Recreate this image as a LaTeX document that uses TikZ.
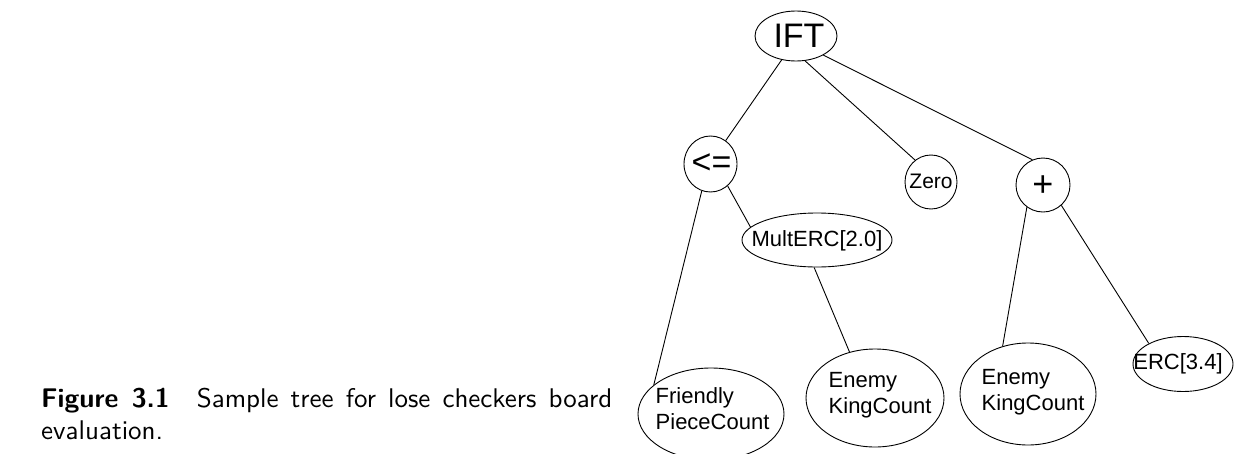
\documentclass[tikz,border=0pt]{standalone}
\usepackage{fontspec}
\newfontfamily\arialf{Liberation Sans}
\usetikzlibrary{shapes.geometric}
\begin{document}
\begin{tikzpicture}[x=1pt,y=-1pt,
  tn/.style={draw, ellipse, line width=0.9pt, inner sep=0pt},
  lbl/.style={inner sep=0pt, font=\arialf\fontsize{22}{26}\selectfont},
  edge/.style={line width=0.9pt}]
\clip (0,0) rectangle (1235,453);
\fill[white] (0,0) rectangle (1235,453);

% tree nodes (shapes)
\node[tn, minimum width=82pt, minimum height=50pt] (ift) at (796,36) {};
\node[tn, minimum width=53pt, minimum height=56pt] (le) at (710.5,164) {};
\node[tn, minimum width=52pt, minimum height=54pt] (zero) at (931,182) {};
\node[tn, minimum width=54pt, minimum height=54pt] (plus) at (1043,185) {};
\node[tn, minimum width=150pt, minimum height=54pt] (mult) at (817,240) {};
\node[tn, minimum width=146pt, minimum height=92pt] (fr) at (711,414) {};
\node[tn, minimum width=138pt, minimum height=98pt] (en1) at (875,398) {};
\node[tn, minimum width=136pt, minimum height=102pt] (en2) at (1028,394) {};
\node[tn, minimum width=100pt, minimum height=55pt] (erc) at (1183,364) {};

% labels
\node[lbl, font=\arialf\fontsize{34}{40}\selectfont] (ift-t) at (799,36) {IFT};
\node[lbl, font=\arialf\fontsize{34}{40}\selectfont] (le-t) at (711.5,164) {<=};
\node[lbl, font=\arialf\fontsize{21}{25}\selectfont] (zero-t) at (931,181) {Zero};
\node[lbl, font=\arialf\fontsize{36}{42}\selectfont] (plus-t) at (1043,186) {+};
\node[lbl] (mult-t) at (817,241) {MultERC[2.0]};
\node[lbl, anchor=base west] (fr-t) at (655.5,403)
  {\begin{tabular}[t]{@{}l@{}}Friendly\\PieceCount\end{tabular}};
\node[lbl, anchor=base west] (en1-t) at (828.5,387)
  {\begin{tabular}[t]{@{}l@{}}Enemy\\KingCount\end{tabular}};
\node[lbl, anchor=base west] (en2-t) at (981.5,384)
  {\begin{tabular}[t]{@{}l@{}}Enemy\\KingCount\end{tabular}};
\node[lbl] (erc-t) at (1178,364) {ERC[3.4]};

% edges
\draw[edge] (ift.239) -- (le.57);
\draw[edge] (ift.290) -- (zero.126);
\draw[edge] (ift.325) -- (plus.113);
\draw[edge] (le.308) -- (mult.169);
\draw[edge] (le.252) -- (fr.153);
\draw[edge] (mult.264) -- (en1.119);
\draw[edge] (plus.234) -- (en2.118);
\draw[edge] (plus.312) -- (erc.149);

% caption (10pt design size, scaled up)
\node[anchor=base west, inner sep=0pt] (cap) at (41,407)
  {\scalebox{2.7}{\sffamily\fontsize{10}{12.2}\selectfont
   \begin{tabular}[t]{@{}l@{}}
   \makebox[211.5pt][s]{\textbf{Figure 3.1}\quad Sample tree for lose checkers board}\\
   evaluation.
   \end{tabular}}};
\end{tikzpicture}
\end{document}
